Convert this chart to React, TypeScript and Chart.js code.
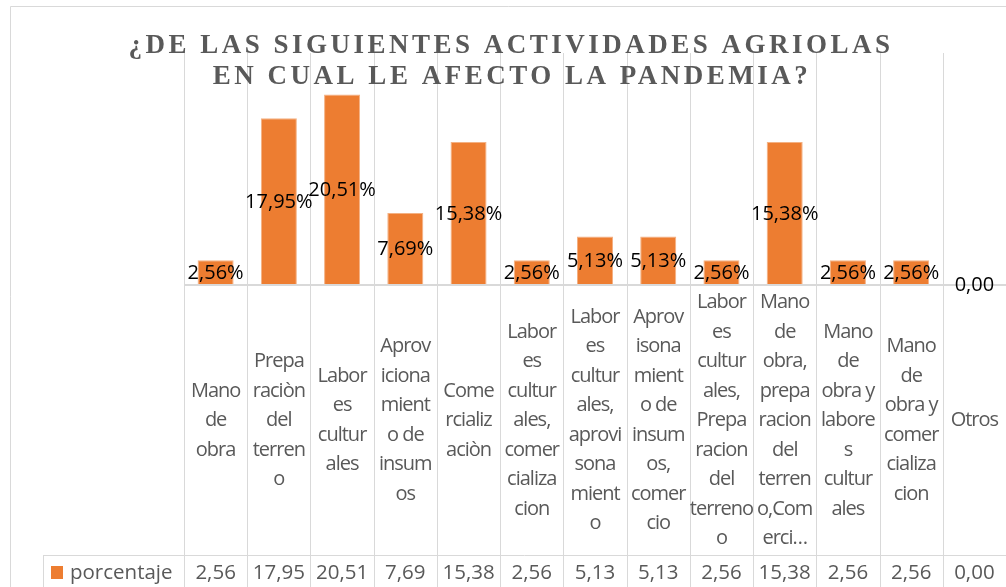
import React, { useEffect, useRef } from "react";
import { Chart, registerables } from "chart.js";

Chart.register(...registerables);

// ---- data ----
const titleLines: string[] = [
  "¿DE LAS SIGUIENTES ACTIVIDADES AGRIOLAS",
  "EN CUAL LE AFECTO LA PANDEMIA?",
];

// category labels, wrapped as in the reference
const categories: string[][] = [
  ["Mano", "de", "obra"],
  ["Prepa", "raciòn", "del", "terren", "o"],
  ["Labor", "es", "cultur", "ales"],
  ["Aprov", "iciona", "mient", "o de", "insum", "os"],
  ["Come", "rcializ", "aciòn"],
  ["Labor", "es", "cultur", "ales,", "comer", "cializa", "cion"],
  ["Labor", "es", "cultur", "ales,", "aprovi", "sona", "mient", "o"],
  ["Aprov", "isona", "mient", "o de", "insum", "os,", "comer", "cio"],
  ["Labor", "es", "cultur", "ales,", "Prepa", "racion", "del", "terreno", "o"],
  ["Mano", "de", "obra,", "prepa", "racion", "del", "terren", "o,Com", "erci…"],
  ["Mano", "de", "obra y", "labore", "s", "cultur", "ales"],
  ["Mano", "de", "obra y", "comer", "cializa", "cion"],
  ["Otros"],
];

const seriesName = "porcentaje";
const values: number[] = [2.56, 17.95, 20.51, 7.69, 15.38, 2.56, 5.13, 5.13, 2.56, 15.38, 2.56, 2.56, 0];
const yMax = 25;

const fmt = (v: number) => v.toFixed(2).replace(".", ",");
const dataLabel = (v: number) => (v > 0 ? fmt(v) + "%" : fmt(v));

// ---- style ----
const BAR = "#ED7D31";
const GRID = "#D9D9D9";
const TEXT = "#595959";
const TABLE_ROW_TOP = 555;
const LINE_H = 29.5;

const decorPlugin = {
  id: "decor",
  beforeDatasetsDraw(chart: any) {
    const ctx = chart.ctx as CanvasRenderingContext2D;
    const { left, right, top } = chart.chartArea;
    const W = chart.width;
    const H = chart.height;
    const xs = chart.scales.x;
    const ys = chart.scales.y;
    const n = categories.length;
    const step = (right - left) / n;
    ctx.save();
    // outer chart border
    ctx.strokeStyle = GRID;
    ctx.lineWidth = 1;
    ctx.beginPath();
    ctx.moveTo(10.5, H);
    ctx.lineTo(10.5, 6.5);
    ctx.lineTo(W, 6.5);
    ctx.stroke();
    // vertical gridlines (category boundaries), through the data table
    for (let i = 0; i <= n; i++) {
      const c = i < n ? xs.getPixelForValue(i) - step / 2 : xs.getPixelForValue(n - 1) + step / 2;
      const gx = Math.round(c) + 0.5;
      ctx.beginPath();
      ctx.moveTo(gx, top);
      ctx.lineTo(gx, H);
      ctx.stroke();
    }
    // data table lines
    ctx.beginPath();
    ctx.moveTo(43, TABLE_ROW_TOP + 0.5);
    ctx.lineTo(W, TABLE_ROW_TOP + 0.5);
    ctx.moveTo(43.5, TABLE_ROW_TOP);
    ctx.lineTo(43.5, H);
    ctx.stroke();
    // axis line
    const by = Math.round(ys.getPixelForValue(0));
    ctx.lineWidth = 2;
    ctx.beginPath();
    ctx.moveTo(left, by + 1);
    ctx.lineTo(W, by + 1);
    ctx.stroke();
    ctx.restore();
  },
  afterDatasetsDraw(chart: any) {
    const ctx = chart.ctx as CanvasRenderingContext2D;
    const meta = chart.getDatasetMeta(0);
    ctx.save();
    ctx.font = '20px "Open Sans"';
    ctx.fillStyle = "#000000";
    ctx.textAlign = "center";
    ctx.textBaseline = "middle";
    meta.data.forEach((bar: any, i: number) => {
      const cy = (bar.y + bar.base) / 2;
      ctx.fillText(dataLabel(values[i]), bar.x, cy + 1);
    });
    ctx.restore();
  },
  afterDraw(chart: any) {
    const ctx = chart.ctx as CanvasRenderingContext2D;
    const xs = chart.scales.x;
    const ys = chart.scales.y;
    const by = ys.getPixelForValue(0);
    ctx.save();
    // title
    ctx.fillStyle = TEXT;
    ctx.font = 'bold 27px "Liberation Serif"';
    ctx.textAlign = "center";
    ctx.textBaseline = "alphabetic";
    (ctx as any).letterSpacing = "3.5px";
    ctx.fillText(titleLines[0], 511, 53);
    ctx.fillText(titleLines[1], 512, 84);
    (ctx as any).letterSpacing = "0px";

    // category labels
    const midY = (by + TABLE_ROW_TOP) / 2;
    ctx.font = '20px "Open Sans"';
    (ctx as any).letterSpacing = "-1px";
    ctx.textBaseline = "middle";
    categories.forEach((lines, i) => {
      const cx = xs.getPixelForValue(i);
      const y0 = midY - ((lines.length - 1) * LINE_H) / 2;
      lines.forEach((ln, k) => ctx.fillText(ln, cx, y0 + k * LINE_H + 1));
    });
    (ctx as any).letterSpacing = "0px";

    // data row
    const rowY = 573;
    ctx.font = '20.5px "Open Sans"';
    values.forEach((v, i) => {
      ctx.fillText(fmt(v), xs.getPixelForValue(i), rowY);
    });
    ctx.fillStyle = BAR;
    ctx.fillRect(51, 566, 12, 13);
    ctx.fillStyle = TEXT;
    ctx.textAlign = "left";
    ctx.fillText(seriesName, 70, rowY);
    ctx.restore();
  },
};

export default function App() {
  const ref = useRef<HTMLCanvasElement | null>(null);
  useEffect(() => {
    if (!ref.current) return;
    const chart = new Chart(ref.current, {
      type: "bar",
      data: {
        labels: categories,
        datasets: [
          {
            label: seriesName,
            data: values,
            backgroundColor: BAR,
            borderColor: "#F4B183",
            borderWidth: 1,
            barPercentage: 0.57,
            categoryPercentage: 1,
          },
        ],
      },
      options: {
        animation: false,
        responsive: false,
        devicePixelRatio: 1,
        layout: { padding: { left: 184, right: 0, top: 53, bottom: 587 - 284 } },
        plugins: {
          legend: { display: false },
          title: { display: false },
          tooltip: { enabled: false },
        },
        scales: {
          x: { display: false, offset: true },
          y: { display: false, min: 0, max: yMax },
        },
      },
      plugins: [decorPlugin],
    });
    return () => chart.destroy();
  }, []);
  return (
    <div style={{ position: "fixed", left: 0, top: 0, width: 1006, height: 587, background: "#fff" }}>
      <canvas ref={ref} width={1006} height={587} style={{ display: "block" }} />
    </div>
  );
}
